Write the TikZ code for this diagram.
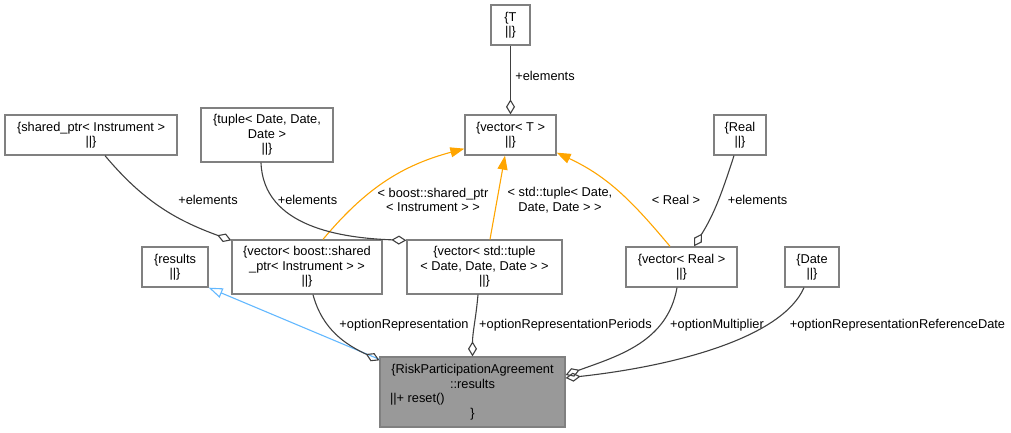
\documentclass[tikz,border=0pt]{standalone}
\usepackage{fontspec}
\setmainfont{Liberation Sans}
\usetikzlibrary{arrows.meta}
\definecolor{boxgray}{HTML}{808080}
\definecolor{edgegray}{HTML}{404040}
\definecolor{tplorange}{HTML}{FFA500}
\definecolor{inhblue}{HTML}{63B8FF}
\definecolor{riskfill}{HTML}{999999}

\begin{document}
\begin{tikzpicture}[x=1pt,y=1pt,
  cls/.style={draw=boxgray,line width=1.3pt,fill=white,inner sep=0pt,align=center,
    font=\fontsize{12.8}{14.5}\selectfont},
  lbl/.style={inner sep=0pt,align=center,font=\fontsize{12.8}{14.5}\selectfont},
  aggr/.style={draw=edgegray,line width=1.1pt,-{Diamond[open,length=15pt,width=9pt]}},
  tmpl/.style={draw=tplorange,line width=1.1pt,-{Triangle[length=14pt,width=10pt]}},
  inh/.style={draw=inhblue,line width=1.1pt,-{Triangle[open,length=14pt,width=10pt,fill=white]}}]
\useasboundingbox (0,0) rectangle (1011,432);
\node[cls,minimum width=39pt,minimum height=40pt] (T) at (510.5,407) {\{T\\||\}};
\node[cls,minimum width=91pt,minimum height=40pt] (vecT) at (510.5,297) {\{vector< T >\\||\}};
\node[cls,minimum width=172pt,minimum height=40pt] (sp) at (91,297) {\{shared\_ptr< Instrument >\\||\}};
\node[cls,minimum width=132pt,minimum height=54pt] (tup) at (267,297) {\{tuple< Date, Date,\\Date >\\||\}};
\node[cls,minimum width=52pt,minimum height=40pt] (real) at (740,297) {\{Real\\||\}};
\node[cls,minimum width=66pt,minimum height=40pt] (res) at (175,165) {\{results\\||\}};
\node[cls,minimum width=150pt,minimum height=54pt] (vb) at (307,165) {\{vector< boost::shared\\\_ptr< Instrument > >\\||\}};
\node[cls,minimum width=155pt,minimum height=54pt] (vt) at (484.5,165) {\{vector< std::tuple\\< Date, Date, Date > >\\||\}};
\node[cls,minimum width=111pt,minimum height=40pt] (vr) at (681.5,165) {\{vector< Real >\\||\}};
\node[cls,minimum width=54pt,minimum height=40pt] (date) at (812,165) {\{Date\\||\}};
\node[cls,fill=riskfill,minimum width=185pt,minimum height=70pt] (risk) at (472.5,40)
  {\{RiskParticipationAgreement\\::results\\\makebox[165pt][l]{||+ reset()}\\\}};

\draw[aggr] (T) -- (vecT);
\node[lbl] (lT) at (545,356) {+elements};
\draw[tmpl] ([xshift=16pt]vb.north) to[out=50,in=195] ([yshift=7pt]vecT.south west);
\node[lbl] (lvb) at (433,232) {< boost::shared\_ptr\\< Instrument > >};
\draw[tmpl] ([xshift=5.5pt]vt.north) -- ([xshift=-5.5pt]vecT.south);
\node[lbl] (lvt) at (560,232) {< std::tuple< Date,\\Date, Date > >};
\draw[tmpl] ([xshift=-11.5pt]vr.north) to[out=130,in=-25] ([yshift=3pt]vecT.south east);
\node[lbl] (lvr) at (676,232) {< Real >};
\draw[aggr] ([xshift=14pt]sp.south) to[out=-50,in=160] ([yshift=-1pt]vb.north west);
\node[lbl] (lsp) at (208,232) {+elements};
\draw[aggr] ([xshift=-6pt]tup.south) to[out=-88,in=178] ([yshift=-1pt]vt.north west);
\node[lbl] (ltup) at (307.5,232) {+elements};
\draw[aggr] ([xshift=-6pt]real.south) to[out=-108,in=58] ([xshift=12.5pt]vr.north);
\node[lbl] (lreal) at (757.5,232) {+elements};
\draw[inh] ([yshift=-3pt]risk.north west) -- (res.south east);
\draw[aggr] ([xshift=6pt]vb.south) to[out=-75,in=155] ([yshift=-4pt]risk.north west);
\node[lbl] (lrep) at (404,107) {+optionRepresentation};
\draw[aggr] ([xshift=-6.5pt]vt.south) to[out=-95,in=90] (risk.north);
\node[lbl] (lper) at (565.5,107) {+optionRepresentationPeriods};
\draw[aggr] ([xshift=-4.5pt]vr.south) to[out=-100,in=20] ([yshift=17pt]risk.east);
\node[lbl] (lmul) at (717,107) {+optionMultiplier};
\draw[aggr] ([xshift=-8pt]date.south) .. controls +(-22,-50) and +(110,12) .. ([yshift=14pt]risk.east);
\node[lbl] (lref) at (897.5,107) {+optionRepresentationReferenceDate};
\end{tikzpicture}
\end{document}
